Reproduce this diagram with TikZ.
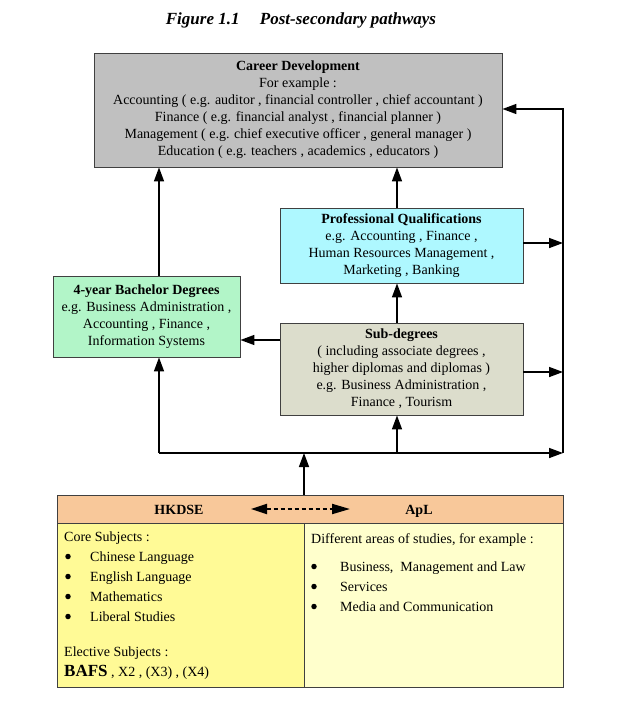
\documentclass[tikz,border=0pt]{standalone}
\usepackage{fontspec}
\setmainfont{Liberation Serif}
\usetikzlibrary{arrows.meta}
\definecolor{cgrey}{HTML}{C0C0C0}
\definecolor{ccyan}{HTML}{AEF8FF}
\definecolor{cgreen}{HTML}{B2F5C8}
\definecolor{cbeige}{HTML}{DCDDCC}
\definecolor{cpeach}{HTML}{F8C89A}
\definecolor{cyel}{HTML}{FFFA96}
\definecolor{cpale}{HTML}{FFFFCC}
\begin{document}
\begin{tikzpicture}[x=1pt,y=-1pt,
  box/.style={draw=black!75, line width=0.9pt, align=center, inner sep=0pt, font=\fontsize{14}{17}\selectfont},
  arr/.style={-{Triangle[length=14pt,width=10pt]}, line width=1.5pt},
  txt/.style={anchor=base west, inner sep=0pt, font=\fontsize{14}{16}\selectfont},
  bul/.style={circle, fill=black, inner sep=0pt, minimum size=5.5pt}]
\useasboundingbox (0,0) rectangle (620,702);

\node[inner sep=0pt, font=\fontsize{17}{20}\selectfont\bfseries\itshape] (title) at (301,20) {Figure 1.1\hspace{1.2em}Post-secondary pathways};

\node[box, fill=cgrey, minimum width=408pt, minimum height=114pt] (career) at (298,110)
 {\textbf{Career Development}\\For example :\\Accounting ( e.g. auditor , financial controller , chief accountant )\\Finance ( e.g. financial analyst , financial planner )\\Management ( e.g. chief executive officer , general manager )\\Education ( e.g. teachers , academics , educators )};

\node[box, fill=ccyan, minimum width=243pt, minimum height=75pt] (prof) at (401.5,245.5)
 {\textbf{Professional Qualifications}\\e.g. Accounting , Finance ,\\Human Resources Management ,\\Marketing , Banking};

\node[box, fill=cgreen, minimum width=187pt, minimum height=81pt] (bach) at (146.5,316.5)
 {\textbf{4-year Bachelor Degrees}\\e.g. Business Administration ,\\Accounting , Finance ,\\Information Systems};

\node[box, fill=cbeige, minimum width=243pt, minimum height=92pt] (sub) at (401.5,369)
 {\textbf{Sub-degrees}\\( including associate degrees ,\\higher diplomas and diplomas )\\e.g. Business Administration ,\\Finance , Tourism};

\node[box, fill=cyel, minimum width=247pt, minimum height=164pt] (left) at (180.5,605) {};
\node[box, fill=cpale, minimum width=259pt, minimum height=164pt] (right) at (433.5,605) {};
\node[box, fill=cpeach, minimum width=506pt, minimum height=28pt] (head) at (310,509) {};
\node[anchor=base, inner sep=0pt, font=\fontsize{14}{16}\selectfont\bfseries] (hk) at (179,514) {HKDSE};
\node[anchor=base, inner sep=0pt, font=\fontsize{14}{16}\selectfont\bfseries] (apl) at (419,514) {ApL};
\coordinate (dl) at (251,509);
\coordinate (dr) at (350,509);
\draw[{Triangle[length=16pt,width=10pt]}-{Triangle[length=18pt,width=10pt]}, line width=2pt, dash pattern=on 4pt off 3pt] (dl) -- (dr);

% left body text
\node[txt] (core) at (64,541.5) {Core Subjects :};
\foreach \n/\t/\y in {1/Chinese Language/561.5, 2/English Language/581.5, 3/Mathematics/601.5, 4/Liberal Studies/621.5}{
  \node[bul] (lb\n) at (68,\y-5) {};
  \node[txt] (li\n) at (90,\y) {\t};
}
\node[txt] (elec) at (64,656.5) {Elective Subjects :};
\node[txt] (bafs) at (64,676) {{\fontsize{17}{18}\selectfont\bfseries BAFS} , X2 , (X3) , (X4)};

% right body text
\node[txt] (diff) at (311,543) {Different areas of studies, for example :};
\foreach \n/\t/\y in {1/{Business,\ \ Management and Law}/571.5, 2/Services/591.5, 3/Media and Communication/611.5}{
  \node[bul] (rb\n) at (314,\y-5) {};
  \node[txt] (ri\n) at (340,\y) {\t};
}

% connector coordinates
\coordinate (xL) at (159,0);
\coordinate (xM) at (397,0);
\coordinate (xR) at (563,0);
\coordinate (xS) at (304,0);
\coordinate (yB) at (0,453);
\coordinate (yT) at (0,109);
\coordinate (yS) at (0,340);
\coordinate (yP) at (0,243);
\coordinate (yQ) at (0,372);

\draw[arr] (bach.north -| xL) -- (career.south -| xL);
\draw[arr] (prof.north -| xM) -- (career.south -| xM);
\draw[arr] (sub.north -| xM) -- (prof.south -| xM);
\draw[arr] (sub.west |- yS) -- (bach.east |- yS);
\draw[arr] (prof.east |- yP) -- (xR |- yP);
\draw[arr] (sub.east |- yQ) -- (xR |- yQ);
\draw[arr] (head.north -| xS) -- (xS |- yB);
\draw[arr] (xL |- yB) -- (xR |- yB);
\draw[arr] (xL |- yB) -- (bach.south -| xL);
\draw[arr] (xM |- yB) -- (sub.south -| xM);
\draw[arr] (xR |- yB) -- (xR |- yT) -- (career.east |- yT);
\end{tikzpicture}
\end{document}
